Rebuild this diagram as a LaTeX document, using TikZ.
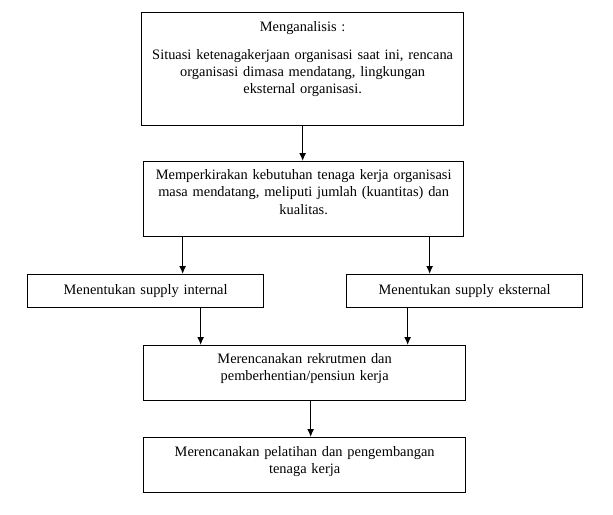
\documentclass[tikz,border=0pt]{standalone}
\usepackage{fontspec}
\setmainfont{Liberation Serif}
\usepackage{tikz}
\usetikzlibrary{arrows.meta}

\tikzset{
    kotak/.style={draw, line width=1.3pt, anchor=north west, align=center, inner xsep=0pt, inner ysep=0pt,
        font=\fontsize{14.4}{17.3}\selectfont},
    panah/.style={line width=1.2pt, -{Latex[length=8pt,width=7pt]}}
}

\begin{document}
\begin{tikzpicture}[x=1pt,y=-1pt]
    \useasboundingbox (0,0) rectangle (613,514);
    \node[kotak, text width=322pt, text height=19pt, text depth=94pt] (analisis) at (141,12)
        {Menganalisis :\\[10.4pt]
         Situasi ketenagakerjaan organisasi saat ini, rencana\\
         organisasi dimasa mendatang, lingkungan\\
         eksternal organisasi.};
    \node[kotak, text width=320pt, text height=18pt, text depth=57pt] (kebutuhan) at (143,161)
        {Memperkirakan kebutuhan tenaga kerja organisasi\\
         masa mendatang, meliputi jumlah (kuantitas) dan\\
         kualitas.};
    \node[kotak, text width=236pt, text height=20pt, text depth=13pt] (internal) at (27,274)
        {Menentukan supply internal};
    \node[kotak, text width=236pt, text height=20pt, text depth=13pt] (eksternal) at (346,274)
        {Menentukan supply eksternal};
    \node[kotak, text width=322pt, text height=18pt, text depth=37pt] (rekrutmen) at (143,345)
        {Merencanakan rekrutmen dan\\
         pemberhentian/pensiun kerja};
    \node[kotak, text width=322pt, text height=19pt, text depth=36pt] (pelatihan) at (143,437)
        {Merencanakan pelatihan dan pengembangan\\
         tenaga kerja};
    \draw[panah] (analisis.south) -- (analisis.south |- kebutuhan.north);
    \draw[panah] ([xshift=-121pt]kebutuhan.south) -- ([xshift=-121pt]kebutuhan.south |- internal.north);
    \draw[panah] ([xshift=126pt]kebutuhan.south) -- ([xshift=126pt]kebutuhan.south |- eksternal.north);
    \draw[panah] ([xshift=55pt]internal.south) -- ([xshift=55pt]internal.south |- rekrutmen.north);
    \draw[panah] ([xshift=-57pt]eksternal.south) -- ([xshift=-57pt]eksternal.south |- rekrutmen.north);
    \draw[panah] ([xshift=6pt]rekrutmen.south) -- ([xshift=6pt]rekrutmen.south |- pelatihan.north);
\end{tikzpicture}
\end{document}
